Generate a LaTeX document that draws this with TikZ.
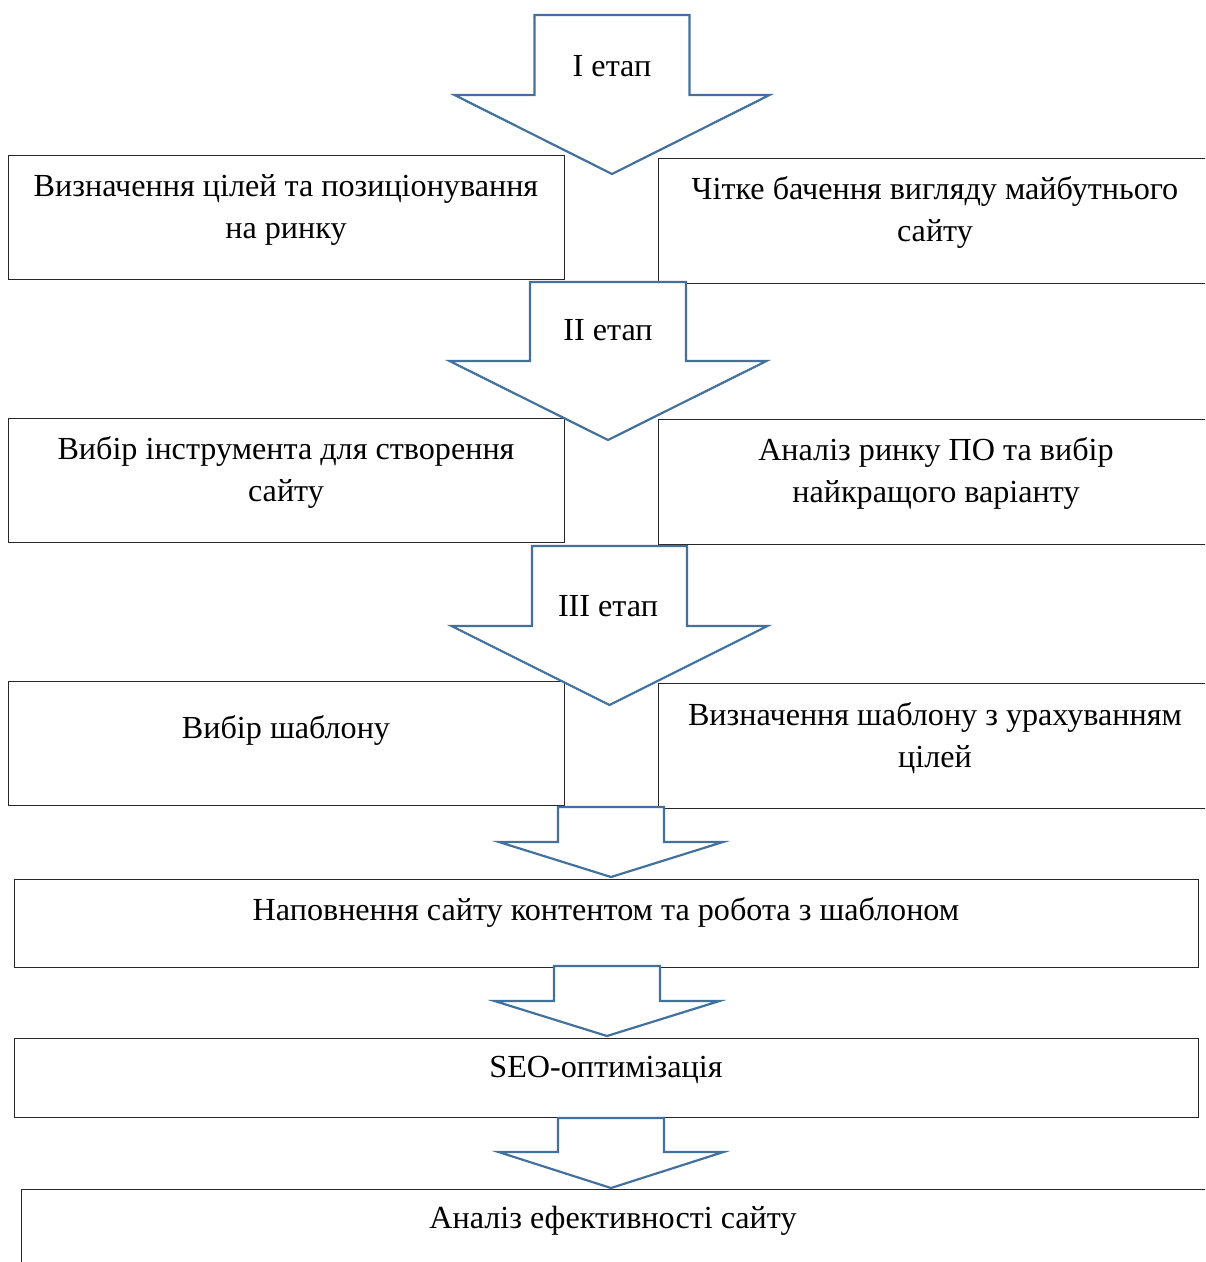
\documentclass[tikz,border=0pt]{standalone}
\usepackage{fontspec}
\setmainfont{Liberation Serif}
\usetikzlibrary{positioning}
\definecolor{stageblue}{HTML}{41719C}

% block arrow: centre x, top y, half stem, shoulder y, half wing, tip y
\newcommand{\stagearrow}[6]{%
  \draw[stagearr] (#1-#3,#2) -- (#1+#3,#2) -- (#1+#3,#4) -- (#1+#5,#4)
    -- (#1,#6) -- (#1-#5,#4) -- (#1-#3,#4) -- cycle;}

\begin{document}
\begin{tikzpicture}[
    x=0.02cm, y=-0.02cm,
    box/.style={draw=black!85, line width=0.8pt, fill=white, inner sep=0pt,
                anchor=north west},
    leftbox/.style={box, minimum width=11.12cm, minimum height=2.48cm},
    rightbox/.style={box, minimum width=11.5cm, minimum height=2.5cm},
    widebox/.style={box, minimum width=23.68cm},
    txt/.style={align=center, font=\fontsize{18.3}{23.9}\selectfont, inner sep=0pt},
    stagearr/.style={draw=stageblue, line width=1.25pt, fill=white, line join=miter}
  ]
    \useasboundingbox (0,0) rectangle (1205,1262);
    \clip (0,0) rectangle (1205,1262);

    % row 1
    \node[leftbox]  (goals)  at (8,155)   {};
    \node[rightbox] (vision) at (658,158) {};
    \node[txt] (goalsText)  at (286,210) {Визначення цілей та позиціонування\\на ринку};
    \node[txt] (visionText) at (935,212) {Чітке бачення вигляду майбутнього\\сайту};

    % row 2
    \node[leftbox]  (tool)   at (8,418)   {};
    \node[rightbox] (market) at (658,419) {};
    \node[txt] (toolText)   at (286,472) {Вибір інструмента для створення\\сайту};
    \node[txt] (marketText) at (936,473) {Аналіз ринку ПО та вибір\\найкращого варіанту};

    % row 3
    \node[leftbox]  (tmpl)   at (8,681)   {};
    \node[rightbox] (tmplgoal) at (658,683) {};
    \node[txt] (tmplText)     at (286,730) {Вибір шаблону};
    \node[txt] (tmplgoalText) at (935,738) {Визначення шаблону з урахуванням\\цілей};

    % single rows
    \node[widebox, minimum height=1.76cm] (content) at (14,879)  {};
    \node[widebox, minimum height=1.58cm] (seo)     at (14,1038) {};
    \node[widebox, minimum width=24cm, minimum height=2cm] (eff) at (21,1189) {};
    \node[txt] (contentText) at (606,912)  {Наповнення сайту контентом та робота з шаблоном};
    \node[txt] (seoText)     at (606,1070) {SEO-оптимізація};
    \node[txt] (effText)     at (613,1221) {Аналіз ефективності сайту};

    % stage arrows
    \stagearrow{612}{15}{77.5}{95}{157.5}{174}
    \node[txt] (stage1) at (612,66) {I етап};
    \stagearrow{608}{282}{78}{361}{158.5}{440}
    \node[txt] (stage2) at (608,330) {II етап};
    \stagearrow{609.5}{546}{77.5}{626}{158}{705}
    \node[txt] (stage3) at (608,606) {III етап};
    \stagearrow{611}{807}{53}{842}{112}{877}
    \stagearrow{607}{966}{53}{1001}{112.5}{1036}
    \stagearrow{611}{1118}{53}{1152}{112.5}{1188}
\end{tikzpicture}
\end{document}
